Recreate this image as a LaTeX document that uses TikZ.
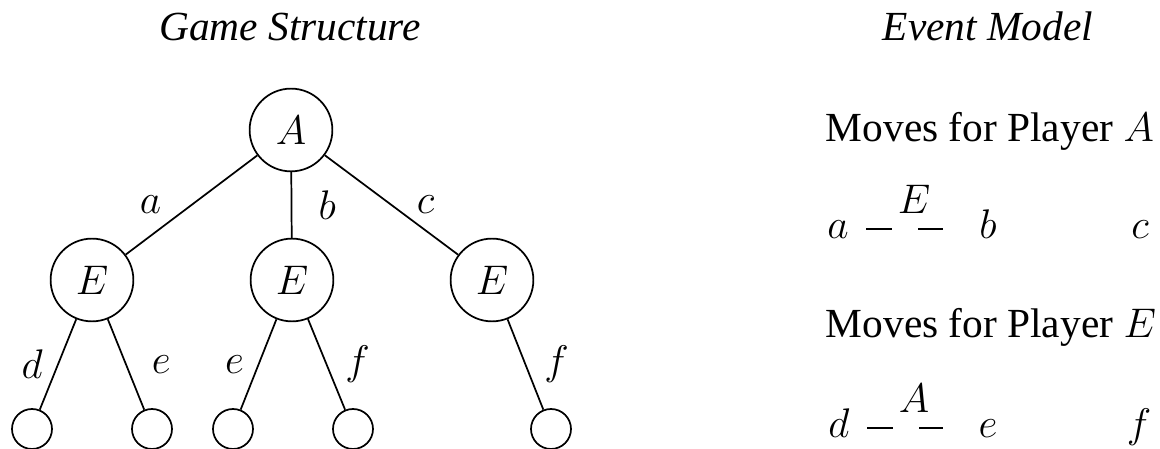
\documentclass[tikz,border=0pt]{standalone}
\usepackage{fontspec}
\setmainfont{Liberation Serif}

\begin{document}
\begin{tikzpicture}[x=0.29pt, y=-0.29pt, line width=0.5pt,
    font=\fontsize{12}{14.4}\selectfont,
    state/.style={draw, circle, minimum size=24pt, inner sep=0pt},
    leaf/.style={draw, circle, minimum size=11.6pt, inner sep=0pt},
    move/.style={inner sep=0pt, anchor=base},
    player/.style={inner sep=0pt, anchor=base west},
    sameev/.style={dash pattern=on 7.54pt off 7.54pt, shorten <=4.9pt, shorten >=10.2pt}]
    \useasboundingbox (0,0) rectangle (1160,449);

    % game structure
    \node[anchor=base] (gtitle) at (290,41) {\itshape Game Structure};
    \node[state] (A) at (291,130) {$A$};
    \node[state] (Ea) at (92,280) {$E$};
    \node[state] (Eb) at (292,280) {$E$};
    \node[state] (Ec) at (492,280) {$E$};
    \node[leaf] (la) at (32,429) {};
    \node[leaf] (lb) at (152,429) {};
    \node[leaf] (lc) at (233,429) {};
    \node[leaf] (ld) at (353,429) {};
    \node[leaf] (le) at (551,429) {};

    \draw (A) -- node[xshift=-11.9pt] {$a$} (Ea);
    \draw (A) -- node[xshift=10.4pt] {$b$} (Eb);
    \draw (A) -- node[xshift=9.9pt] {$c$} (Ec);
    \draw (Ea) -- node[xshift=-7.5pt] {$d$} (la);
    \draw (Ea) -- node[xshift=10.2pt] {$e$} (lb);
    \draw (Eb) -- node[xshift=-7pt] {$e$} (lc);
    \draw (Eb) -- node[xshift=9pt] {$f$} (ld);
    \draw (Ec) -- node[xshift=9pt] {$f$} (le);

    % event model
    \node[anchor=base] (etitle) at (988,41) {\itshape Event Model};
    \node[player] (pa) at (825,142) {Moves for Player $A$};
    \node[move] (ma) at (838,239) {$a$};
    \node[move] (mb) at (988,239) {$b$};
    \node[move] (mc) at (1140,239) {$c$};
    \draw[sameev] ([yshift=3pt]ma.base east) -- ([yshift=3pt]ma.base east -| mb.base west)
        node[midway, above=4pt, inner sep=0pt] {$E$};

    \node[player] (pe) at (825,338) {Moves for Player $E$};
    \node[move] (md) at (839,438) {$d$};
    \node[move] (me) at (988,438) {$e$};
    \node[move] (mf) at (1139,438) {$f$};
    \draw[sameev] ([yshift=3pt]md.base east) -- ([yshift=3pt]md.base east -| me.base west)
        node[midway, above=4pt, inner sep=0pt] {$A$};
\end{tikzpicture}
\end{document}
